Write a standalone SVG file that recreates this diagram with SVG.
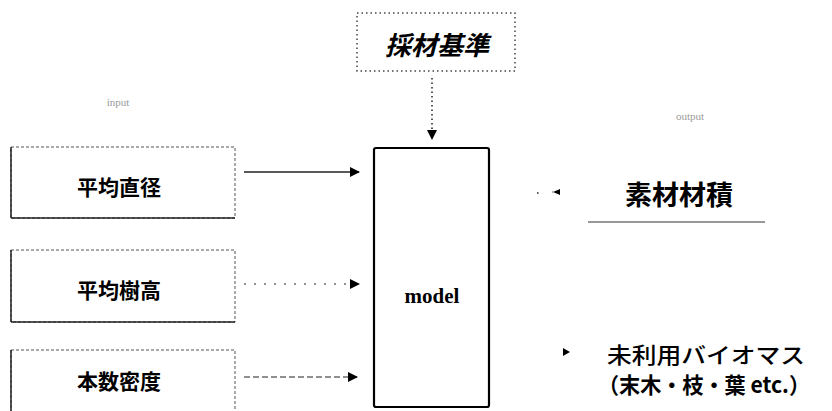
<svg xmlns="http://www.w3.org/2000/svg" width="832" height="411" viewBox="0 0 832 411">
<style>
.jp{font-family:"Noto Sans CJK JP","Noto Sans",sans-serif;font-weight:bold;fill:#000}
.lbl{font-family:"Liberation Serif",serif;font-size:11px;fill:#999}
.ibox{fill:none;stroke:#555;stroke-width:1;stroke-dasharray:3 2}
.edge{stroke:#222;stroke-width:1.5}
</style>
<defs>
<marker id="ah" viewBox="0 0 10 10" refX="9" refY="5" markerWidth="10" markerHeight="10" markerUnits="userSpaceOnUse" orient="auto">
<path d="M0,0 L10,5 L0,10 Z" fill="#000"/>
</marker>
</defs>
<rect width="832" height="411" fill="#fff"/>
<text class="lbl" x="118" y="106" text-anchor="middle">input</text>
<text class="lbl" x="690" y="120" text-anchor="middle">output</text>
<g id="saizai-kijun">
<rect x="357" y="13" width="158" height="58" fill="none" stroke="#444" stroke-width="1.5" stroke-dasharray="1.5 3"/>
<text class="jp" x="437" y="55" font-size="26" font-style="italic" text-anchor="middle">採材基準</text>
</g>
<g id="heikin-chokkei">
<rect class="ibox" x="11" y="147" width="224" height="71"/>
<line class="edge" x1="11" y1="147" x2="11" y2="218"/>
<line class="edge" x1="11" y1="218" x2="235" y2="218"/>
<text class="jp" x="119" y="195" font-size="21" text-anchor="middle">平均直径</text>
</g>
<g id="heikin-jukou">
<rect class="ibox" x="11" y="250" width="224" height="72"/>
<line class="edge" x1="11" y1="250" x2="11" y2="322"/>
<line class="edge" x1="11" y1="322" x2="235" y2="322"/>
<text class="jp" x="119" y="298" font-size="21" text-anchor="middle">平均樹高</text>
</g>
<g id="honsu-mitsudo">
<rect class="ibox" x="11" y="350" width="224" height="70"/>
<line class="edge" x1="11" y1="350" x2="11" y2="411"/>
<text class="jp" x="119" y="389" font-size="21" text-anchor="middle">本数密度</text>
</g>
<g id="model">
<rect x="374" y="148" width="115" height="259" fill="none" stroke="#000" stroke-width="2.2" rx="2"/>
<text x="432" y="303" font-family="Liberation Serif,serif" font-weight="bold" font-size="21" text-anchor="middle">model</text>
</g>
<g id="sozai-zaiseki">
<text class="jp" x="679" y="205" font-size="27" text-anchor="middle">素材材積</text>
<line x1="588" y1="222" x2="765" y2="222" stroke="#333" stroke-width="1.2"/>
</g>
<g id="miriyou-biomass">
<text class="jp" x="607" y="363" font-size="22" textLength="198" lengthAdjust="spacingAndGlyphs" style="font-weight:500">未利用バイオマス</text>
<text class="jp" x="598" y="393" font-size="22" textLength="212" lengthAdjust="spacingAndGlyphs">（末木・枝・葉 etc.）</text>
</g>
<g id="connectors" fill="none">
<line x1="432" y1="78" x2="432" y2="139" stroke="#222" stroke-width="1.5" stroke-dasharray="1.5 3" marker-end="url(#ah)"/>
<line x1="244" y1="172" x2="359" y2="172" stroke="#222" stroke-width="1.5" marker-end="url(#ah)"/>
<line x1="244" y1="284" x2="359" y2="284" stroke="#222" stroke-width="1.2" stroke-dasharray="2 8" marker-end="url(#ah)"/>
<line x1="244" y1="377" x2="357" y2="377" stroke="#222" stroke-width="1.2" stroke-dasharray="6 3" marker-end="url(#ah)"/>
<line x1="537" y1="193" x2="553" y2="192" stroke="#222" stroke-width="1.5" stroke-dasharray="1.5 14"/>
<path d="M560,189 L553,192 L560,195" fill="#000" stroke="none"/>
<path d="M563,348 L570,352 L563,356 Z" fill="#000" stroke="none"/>
</g>
</svg>
